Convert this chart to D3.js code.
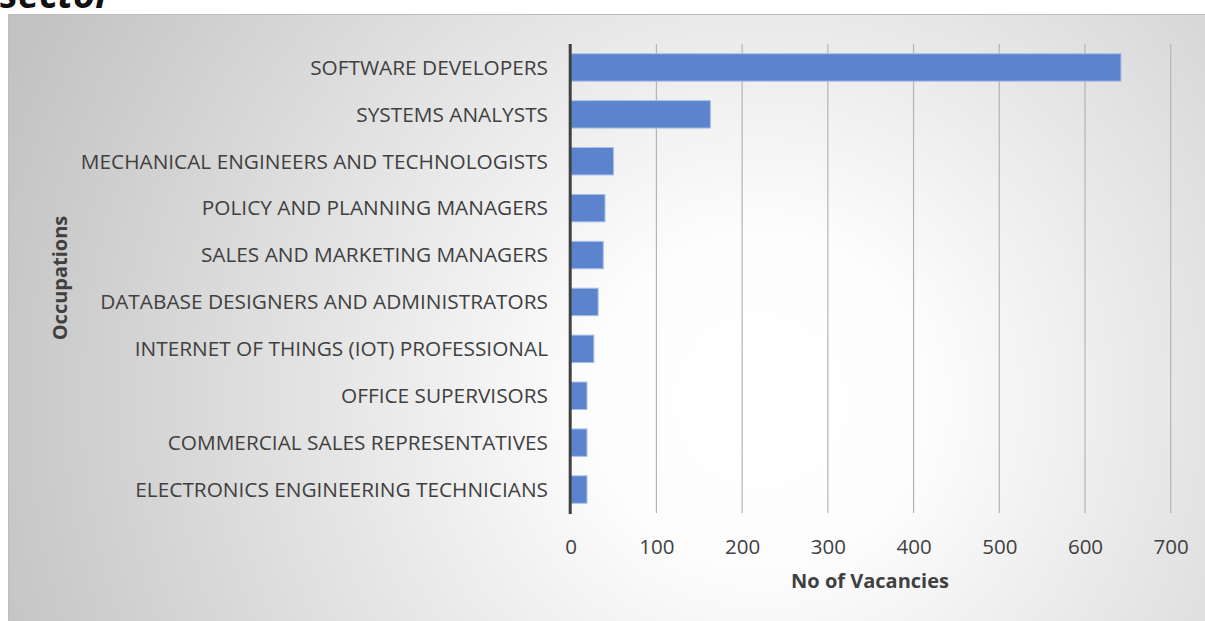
<!DOCTYPE html>
<html>
<head>
<meta charset="utf-8">
<script src="https://cdn.jsdelivr.net/npm/d3@7"></script>
<style>
    html, body { margin: 0; padding: 0; background: #ffffff; }
    svg { display: block; font-family: "Open Sans", sans-serif; }
</style>
</head>
<body>
<div id="chart"></div>
<script>
// occupations, top to bottom
const occupations = [
    "SOFTWARE DEVELOPERS",
    "SYSTEMS ANALYSTS",
    "MECHANICAL ENGINEERS AND TECHNOLOGISTS",
    "POLICY AND PLANNING MANAGERS",
    "SALES AND MARKETING MANAGERS",
    "DATABASE DESIGNERS AND ADMINISTRATORS",
    "INTERNET OF THINGS (IOT) PROFESSIONAL",
    "OFFICE SUPERVISORS",
    "COMMERCIAL SALES REPRESENTATIVES",
    "ELECTRONICS ENGINEERING TECHNICIANS",
];
const vacancies = [642, 163, 50, 40, 38, 32, 27, 19, 19, 19];
const xTicks = [0, 100, 200, 300, 400, 500, 600, 700];

const width = 1205,
    height = 621;
const plot = { left: 570.7, right: 1170.7, top: 44, bottom: 513 };

const svg = d3
    .select("#chart")
    .append("svg")
    .attr("width", width)
    .attr("height", height);

// chart area background (radial grey gradient)
const grad = svg
    .append("defs")
    .append("radialGradient")
    .attr("id", "bg")
    .attr("gradientUnits", "userSpaceOnUse")
    .attr("cx", 760)
    .attr("cy", 400)
    .attr("r", 820);
grad.append("stop").attr("offset", 0).attr("stop-color", "#ffffff");
grad.append("stop").attr("offset", 0.2).attr("stop-color", "#fdfdfd");
grad.append("stop").attr("offset", 1).attr("stop-color", "#c2c2c2");

svg.append("rect")
    .attr("x", 8.5)
    .attr("y", 14.5)
    .attr("width", width - 8)
    .attr("height", height - 14)
    .attr("fill", "url(#bg)")
    .attr("stroke", "#bdbdbd")
    .attr("stroke-width", 1);

// heading from the page above, cut off by the top edge
svg.append("text")
    .attr("x", 0)
    .attr("y", 8)
    .attr("font-size", 38)
    .attr("font-weight", "bold")
    .attr("font-style", "italic")
    .attr("fill", "#111")
    .text("sector");

const x = d3.scaleLinear().domain([0, 700]).range([plot.left, plot.right]);

const y = d3
    .scaleBand()
    .domain(occupations)
    .range([plot.top, plot.bottom])
    .paddingInner(0.415)
    .paddingOuter(0.2075);

// vertical gridlines
svg.append("g")
    .selectAll("line")
    .data(xTicks.slice(1))
    .join("line")
    .attr("x1", (d) => x(d))
    .attr("x2", (d) => x(d))
    .attr("y1", plot.top)
    .attr("y2", plot.bottom)
    .attr("stroke", "#b4b4b4")
    .attr("stroke-width", 1.2);

// bars
svg.append("g")
    .selectAll("rect")
    .data(occupations)
    .join("rect")
    .attr("x", x(0))
    .attr("y", (d) => y(d))
    .attr("width", (d, i) => x(vacancies[i]) - x(0))
    .attr("height", y.bandwidth())
    .attr("fill", "#5b84cc")
    .attr("stroke", "#a9c0ea")
    .attr("stroke-width", 1);

// y axis line
svg.append("line")
    .attr("x1", x(0) - 0.5)
    .attr("x2", x(0) - 0.5)
    .attr("y1", plot.top)
    .attr("y2", plot.bottom + 1)
    .attr("stroke", "#404040")
    .attr("stroke-width", 3);

// category labels
svg.append("g")
    .selectAll("text")
    .data(occupations)
    .join("text")
    .attr("x", 548)
    .attr("y", (d) => y(d) + y.bandwidth() / 2)
    .attr("dy", "0.35em")
    .attr("text-anchor", "end")
    .attr("font-size", 20.8)
    .attr("fill", "#404040")
    .text((d) => d);

// x axis tick labels
const xAxis = d3.axisBottom(x).tickValues(xTicks).tickSize(0).tickPadding(0);
const gx = svg
    .append("g")
    .attr("transform", `translate(0,${plot.bottom + 26})`)
    .call(xAxis);
gx.select(".domain").remove();
gx.selectAll("text")
    .attr("font-family", "Open Sans, sans-serif")
    .attr("font-size", 20.5)
    .attr("fill", "#404040");

// axis titles
svg.append("text")
    .attr("x", 870)
    .attr("y", 588)
    .attr("text-anchor", "middle")
    .attr("font-size", 20)
    .attr("font-weight", "bold")
    .attr("fill", "#404040")
    .text("No of Vacancies");

svg.append("text")
    .attr("transform", "translate(67,278) rotate(-90)")
    .attr("text-anchor", "middle")
    .attr("font-size", 20)
    .attr("font-weight", "bold")
    .attr("fill", "#404040")
    .text("Occupations");
</script>
</body>
</html>
